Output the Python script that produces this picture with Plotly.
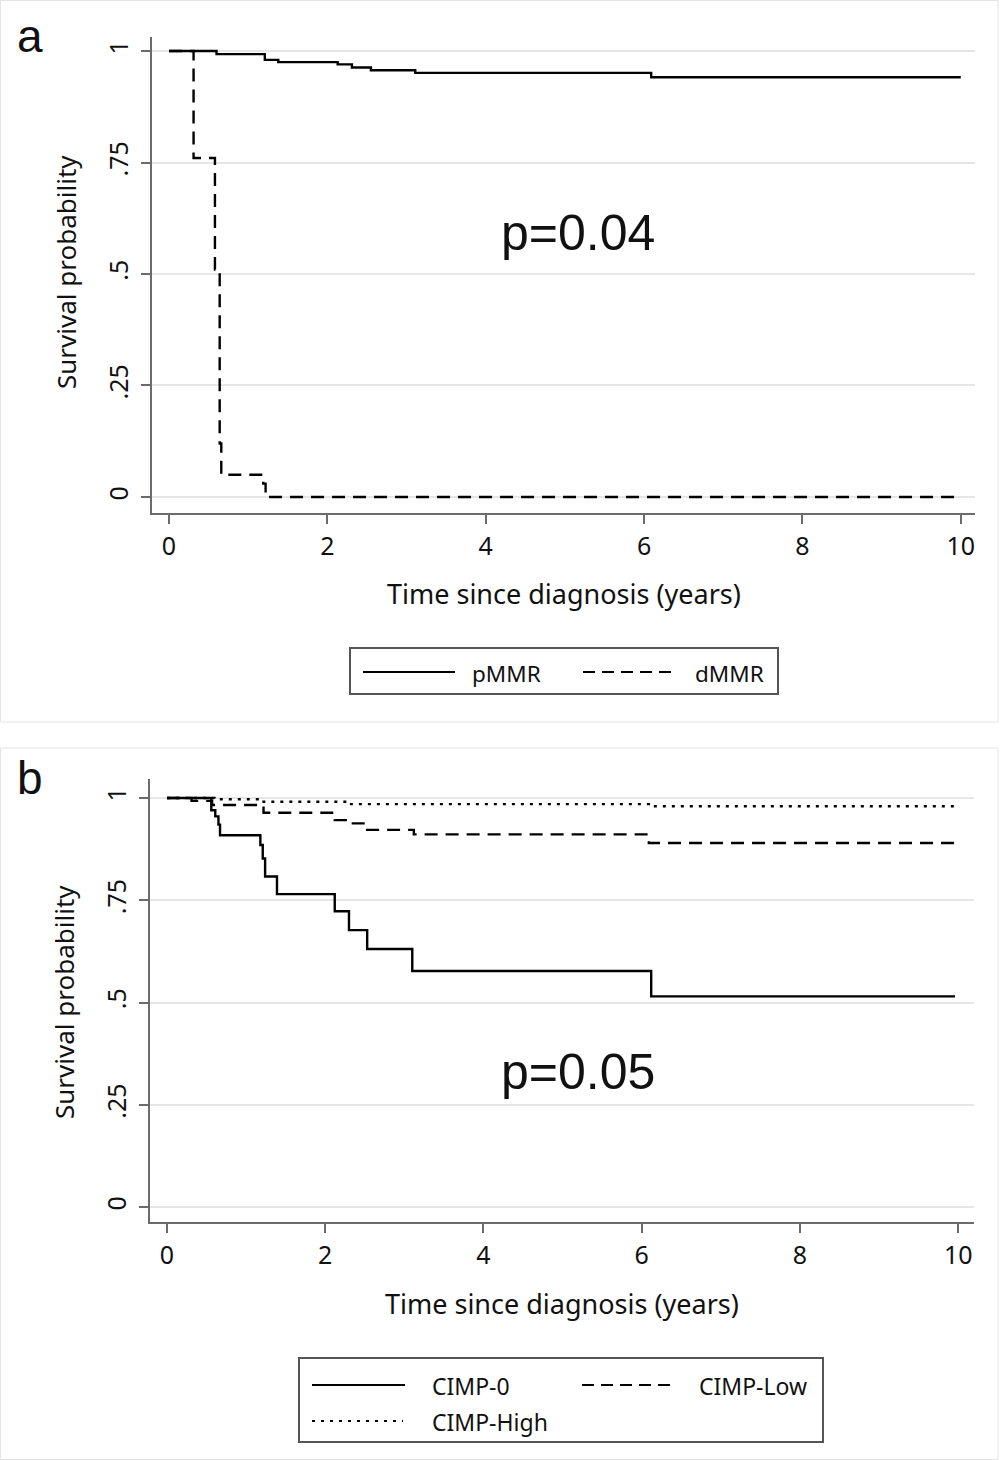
import plotly.graph_objects as go

# ---------------- data ----------------
# Panel a: MMR status
pmmr_t = [0, 0.60, 1.21, 1.38, 2.13, 2.31, 2.55, 3.11, 6.09, 10]
pmmr_s = [1, 0.993, 0.980, 0.975, 0.970, 0.963, 0.957, 0.951, 0.941, 0.941]

dmmr_t = [0, 0.31, 0.58, 0.64, 0.66, 1.19, 1.22, 10]
dmmr_s = [1, 0.76, 0.51, 0.12, 0.05, 0.03, 0, 0]

# Panel b: CIMP status
cimp0_t = [0, 0.56, 0.61, 0.65, 0.67, 1.18, 1.21, 1.24, 1.39, 2.12, 2.30, 2.53, 3.10, 6.12, 9.96]
cimp0_s = [1, 0.97, 0.955, 0.935, 0.909, 0.885, 0.852, 0.808, 0.765, 0.723, 0.677, 0.631, 0.577, 0.515, 0.515]

cimplow_t = [0, 0.31, 0.57, 1.22, 2.12, 2.32, 2.53, 3.12, 6.09, 9.96]
cimplow_s = [1, 0.993, 0.983, 0.964, 0.946, 0.938, 0.922, 0.911, 0.890, 0.890]

cimphigh_t = [0, 0.60, 1.20, 2.29, 6.09, 9.96]
cimphigh_s = [1, 0.997, 0.991, 0.985, 0.980, 0.980]

x_ticks = [0, 2, 4, 6, 8, 10]
y_ticks = [0, 0.25, 0.5, 0.75, 1]
y_tick_labels = ["0", ".25", ".5", ".75", "1"]

x_title = "Time since diagnosis (years)"
y_title = "Survival probability"
p_a = "p=0.04"
p_b = "p=0.05"

# ---------------- layout helpers ----------------
W, H = 1004, 1460
FONT = "Noto Sans"
def px(x):
    return x / W
def py(y):
    return 1 - y / H

AXC = "#6b6b6b"
GRID = "#e6e6e6"
DASH = "13px,8px"
DOT = "3px,6px"

fig = go.Figure()

def step(x, y, dash, xa, ya):
    fig.add_trace(go.Scatter(x=x, y=y, mode="lines", line_shape="hv",
                             line=dict(color="black", width=2.4, dash=dash),
                             xaxis=xa, yaxis=ya, showlegend=False,
                             hoverinfo="skip"))

step(pmmr_t, pmmr_s, "solid", "x", "y")
step(dmmr_t, dmmr_s, DASH, "x", "y")
step(cimplow_t, cimplow_s, DASH, "x2", "y2")
step(cimphigh_t, cimphigh_s, DOT, "x2", "y2")
step(cimp0_t, cimp0_s, "solid", "x2", "y2")

def xaxis_cfg(dom, rng, anchor):
    return dict(domain=dom, range=rng, anchor=anchor, tickvals=x_ticks,
                ticktext=[str(v) for v in x_ticks], showgrid=False,
                zeroline=False, showline=True, linecolor=AXC, linewidth=2,
                ticks="outside", ticklen=9, tickwidth=2, tickcolor=AXC,
                tickfont=dict(family=FONT, size=25, color="#111"),
                ticklabelstandoff=1)

def yaxis_cfg(dom, rng, anchor):
    return dict(domain=dom, range=rng, anchor=anchor, tickvals=y_ticks,
                ticktext=y_tick_labels, showgrid=True, gridcolor=GRID,
                gridwidth=1.5, zeroline=False, showline=True, linecolor=AXC,
                linewidth=2, ticks="outside", ticklen=9, tickwidth=2,
                tickcolor=AXC, tickangle=-90,
                tickfont=dict(family=FONT, size=25, color="#111"),
                ticklabelstandoff=3)

fig.update_layout(
    width=W, height=H, margin=dict(l=0, r=0, t=0, b=0),
    paper_bgcolor="white", plot_bgcolor="white",
    xaxis=xaxis_cfg([px(152), px(975)], [-0.215, 10.18], "y"),
    yaxis=yaxis_cfg([py(513), py(37)], [-0.0359, 1.0314], "x"),
    xaxis2=xaxis_cfg([px(150), px(974)], [-0.215, 10.2], "y2"),
    yaxis2=yaxis_cfg([py(1222), py(779)], [-0.0367, 1.0465], "x2"),
)

shapes = []
ann = []

# panel frames
shapes.append(dict(type="rect", xref="paper", yref="paper", x0=px(0.5), x1=px(998),
                   y0=py(722), y1=py(0.5), line=dict(color="#e4e4e4", width=1)))
shapes.append(dict(type="rect", xref="paper", yref="paper", x0=px(0.5), x1=px(998),
                   y0=py(1459.5), y1=py(748), line=dict(color="#e4e4e4", width=1)))

def text(x, y, s, size, xanchor="center", angle=0, family=FONT):
    ann.append(dict(x=px(x), y=py(y), xref="paper", yref="paper", text=s,
                    showarrow=False, xanchor=xanchor, yanchor="middle",
                    textangle=angle, font=dict(family=family, size=size, color="#111")))

# panel letters
text(30, 36, "a", 46, family="Liberation Sans")
text(30, 778, "b", 46, family="Liberation Sans")

# p-values
text(578, 233, p_a, 50, family="Liberation Sans")
text(578, 1072, p_b, 50, family="Liberation Sans")

# axis titles
text(564, 593, x_title, 27)
text(562, 1303, x_title, 27)
text(66, 272, y_title, 26, angle=-90)
text(64, 1002, y_title, 26, angle=-90)

# legends
def leg_line(x0, x1, y, dash):
    shapes.append(dict(type="line", xref="paper", yref="paper", x0=px(x0), x1=px(x1),
                       y0=py(y), y1=py(y), line=dict(color="black", width=2, dash=dash)))

shapes.append(dict(type="rect", xref="paper", yref="paper", x0=px(350), x1=px(778),
                   y0=py(694), y1=py(648), line=dict(color="#555", width=2)))
leg_line(363, 455, 672, "solid")
text(470, 673, "pMMR", 22.5, xanchor="left")
leg_line(583, 678, 672, "12px,7px")
text(693, 673, "dMMR", 22.5, xanchor="left")

shapes.append(dict(type="rect", xref="paper", yref="paper", x0=px(299), x1=px(823),
                   y0=py(1442), y1=py(1358), line=dict(color="#555", width=2)))
leg_line(312, 405, 1385, "solid")
text(430, 1386, "CIMP-0", 23, xanchor="left")
leg_line(582, 677, 1385, "12px,7px")
text(697, 1386, "CIMP-Low", 23, xanchor="left")
leg_line(312, 403, 1421, "3px,6px")
text(430, 1422, "CIMP-High", 23, xanchor="left")

fig.update_layout(shapes=shapes, annotations=ann)
fig.write_html("out.html", config={"displayModeBar": False},
               post_script="document.body.style.margin='0px';document.body.style.padding='0px';")
